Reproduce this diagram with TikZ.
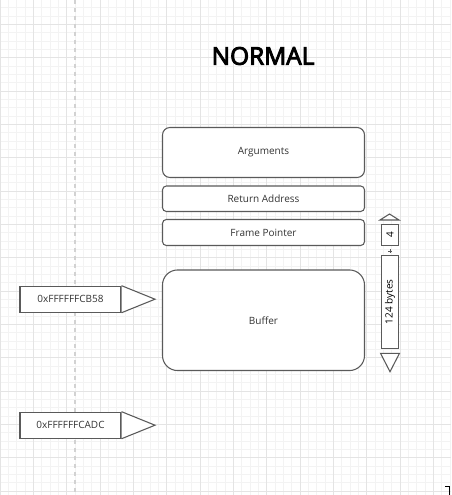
\documentclass[tikz,border=0pt]{standalone}
\usepackage{fontspec}
\setmainfont{Open Sans}
\newfontfamily\titlefont{Open Sans}[FakeBold=4]
\definecolor{inkgray}{HTML}{333333}
\definecolor{edgegray}{HTML}{5A5A5A}
\definecolor{minorgrid}{HTML}{F3F3F3}
\definecolor{majorgrid}{HTML}{E4E4E4}
\tikzset{
  stackbox/.style={draw=edgegray, fill=white, line width=0.8pt, text=inkgray,
    minimum width=151.5pt, font=\fontsize{7.5}{9}\selectfont},
  addrbox/.style={draw=edgegray, fill=white, line width=0.8pt, text=inkgray,
    minimum width=75.75pt, minimum height=19.5pt, font=\fontsize{7.5}{9}\selectfont},
  sizebox/.style={draw=edgegray, fill=white, line width=0.8pt, text=black,
    rotate=90, minimum height=12.5pt, inner sep=0pt, font=\fontsize{7.5}{9}\selectfont},
  pointer/.style={draw=edgegray, fill=white, line width=0.8pt, line join=miter},
  marker/.style={draw=edgegray, fill=white, line width=0.8pt}
}
\begin{document}
\begin{tikzpicture}[x=0.75pt, y=-0.75pt]
    \useasboundingbox (0,0) rectangle (451,495);
    \fill[white] (0,0) rectangle (451,495);

    % GRID
    \foreach \i in {0,...,54}
        \draw[minorgrid, line width=0.6pt] (\i*8.3333,0) -- ++(0,495);
    \foreach \i in {0,...,61}
        \draw[minorgrid, line width=0.6pt] (0,-9+\i*8.3333) -- ++(451,0);
    \foreach \i in {0,...,13}
        \draw[majorgrid, line width=0.6pt] (\i*33.333,0) -- ++(0,495);
    \foreach \i in {0,...,15}
        \draw[majorgrid, line width=0.6pt] (0,-9+\i*33.333) -- ++(451,0);

    % PAGE GUIDE
    \draw[gray!35, line width=1pt, dash pattern=on 3pt off 3pt] (75,0) -- (75,495);
    \draw[black, line width=0.6pt] (445,486) -- (449,486) -- (449,495);

    % TITLE
    \node[font=\titlefont\fontsize{18.3}{20}\selectfont, text=black] (title) at (263,56) {NORMAL};

    % STACK FRAME
    \node[stackbox, rounded corners=5.6pt, minimum height=37.5pt] (args) at (263.5,152.5) {Arguments};
    \node[stackbox, rounded corners=2.9pt, minimum height=19.1pt] (ret) at (263.5,198.75) {Return Address};
    \node[stackbox, rounded corners=2.9pt, minimum height=19.5pt] (fp) at (263.5,232.5) {Frame Pointer};
    \node[stackbox, rounded corners=11.25pt, minimum height=75.4pt] (buf) at (263.5,320.25) {Buffer};

    % ADDRESS POINTERS
    \node[addrbox] (top) at (70.5,299.2) {0xFFFFFFCB58};
    \coordinate (toptip) at (155,299.2);
    \draw[pointer] (top.north east) -- (toptip) -- (top.south east);
    \node[addrbox] (bot) at (70.5,425.2) {0xFFFFFFCADC};
    \coordinate (bottip) at (155,425.2);
    \draw[pointer] (bot.north east) -- (bottip) -- (bot.south east);

    % SIZES
    \node[sizebox, minimum width=16pt] (four) at (390,235) {4};
    \node[sizebox, minimum width=70pt] (bytes) at (390,301.7) {124 bytes};
    \draw[marker] (380,220) -- (389.5,214) -- (399,220) -- cycle;
    \draw[marker] (380.5,353.3) -- (399.5,353.3) -- (390,371.7) -- cycle;
    \draw[edgegray, line width=0.6pt] (388,251) -- (392,251) (390,249) -- (390,253);
\end{tikzpicture}
\end{document}
